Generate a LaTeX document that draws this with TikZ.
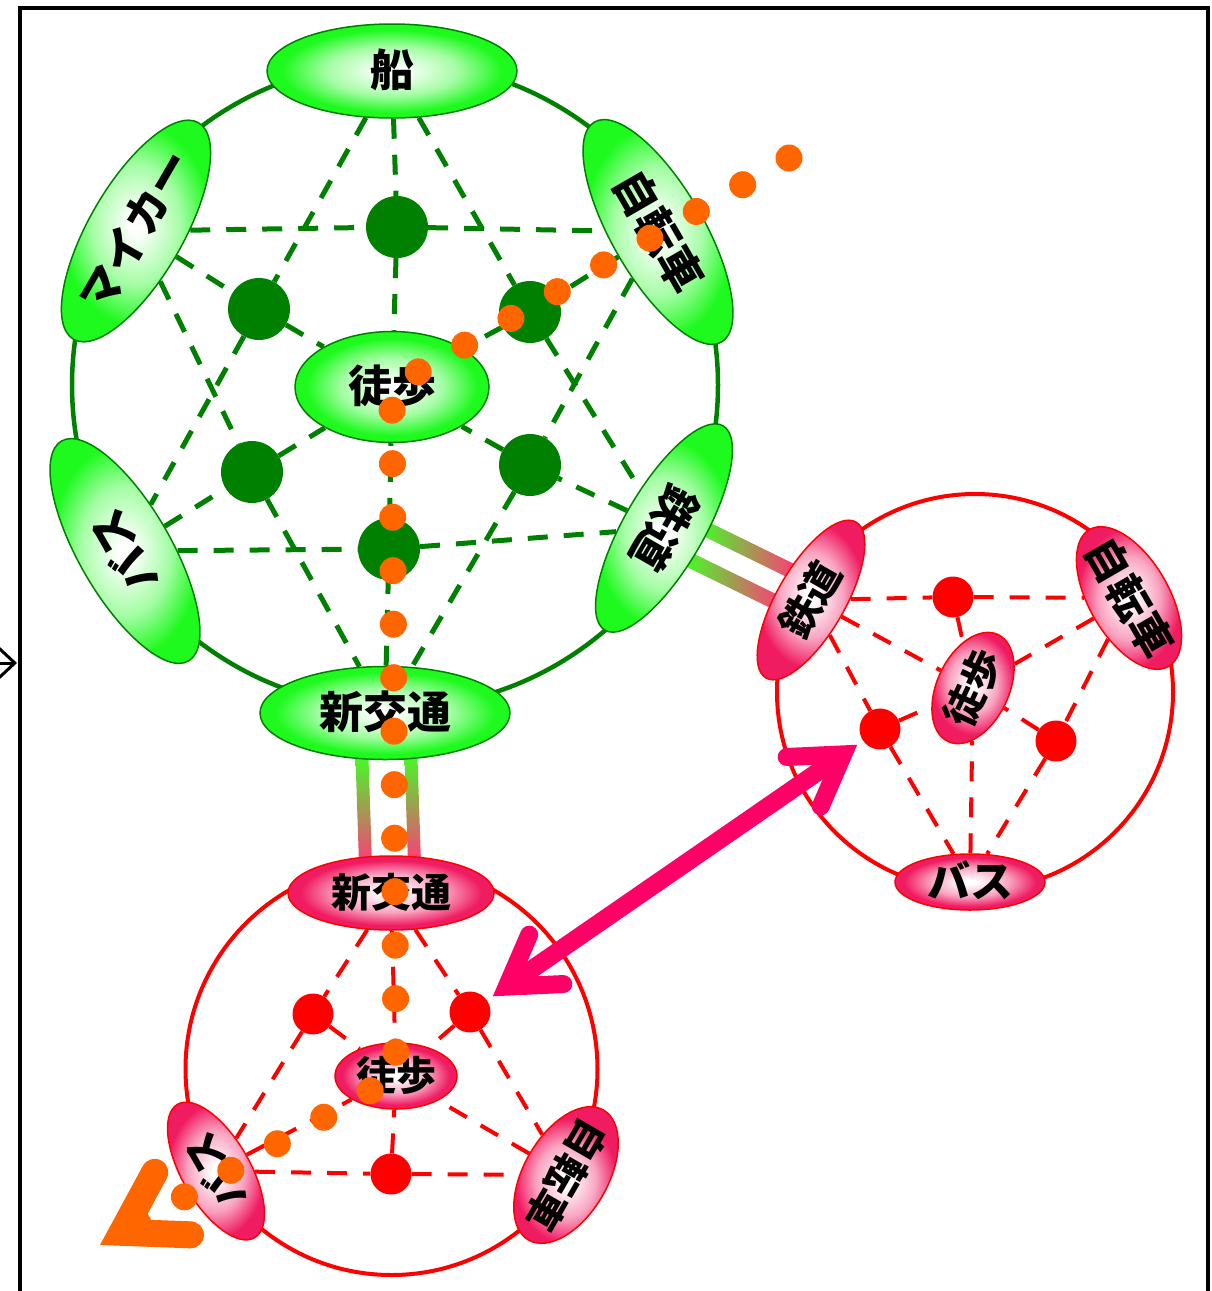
\documentclass[tikz,border=0pt]{standalone}
\usepackage{fontspec}
\usepackage{tikz}
\usetikzlibrary{arrows.meta,shapes.geometric,calc,backgrounds}
\newfontfamily\jpfont{Noto Sans CJK JP}

\definecolor{dkgreen}{RGB}{0,128,0}
\definecolor{rimgreen}{RGB}{30,250,30}
\definecolor{rimpink}{RGB}{240,28,98}
\definecolor{routeorange}{RGB}{255,102,0}
\definecolor{arrowpink}{RGB}{255,0,102}
\definecolor{railgreen}{RGB}{70,250,40}
\definecolor{railpink}{RGB}{255,60,120}

% the path box is the 25bp circle of a shading
\pgfdeclareradialshading{greenglow}{\pgfpointorigin}{color(0bp)=(white); color(2bp)=(white); color(13bp)=(rimgreen!40!white); color(22bp)=(rimgreen); color(50bp)=(rimgreen)}
\pgfdeclareradialshading{pinkglow}{\pgfpointorigin}{color(0bp)=(white); color(2bp)=(white); color(13bp)=(rimpink!40!white); color(22bp)=(rimpink); color(50bp)=(rimpink)}

\newcommand{\ovaltext}[1]{\raisebox{-.36em}[0pt][0pt]{\makebox[0pt]{#1}}}

\tikzset{
  greenoval/.style={ellipse, draw=dkgreen, line width=1.5pt, shade, shading=greenglow, inner sep=0pt, font=\jpfont\bfseries\fontsize{44}{44}\selectfont},
  pinkoval/.style={ellipse, draw=red, line width=1.5pt, shade, shading=pinkglow, inner sep=0pt, font=\jpfont\bfseries\fontsize{40}{40}\selectfont},
  gdot/.style={circle, fill=dkgreen, minimum size=62pt, inner sep=0pt},
  rdot/.style={circle, fill=red, minimum size=41pt, inner sep=0pt},
  glink/.style={dkgreen, line width=5pt, dash pattern=on 20pt off 16pt},
  rlink/.style={red, line width=4pt, dash pattern=on 20pt off 16pt},
  routedots/.style={routeorange, line width=27pt, line cap=round, dash pattern=on 0pt off 53.5pt,
    -{Straight Barb[length=58pt,width=72pt,line cap=round,line join=miter]}},
  swaparrow/.style={arrowpink, line width=18pt, shorten <=7pt, shorten >=7pt,
    {Straight Barb[length=48pt,width=60pt,line cap=round,line join=miter]}-{Straight Barb[length=48pt,width=60pt,line cap=round,line join=miter]}},
}

\begin{document}
\begin{tikzpicture}[x=1pt,y=-1pt]
\useasboundingbox (0,0) rectangle (1211,1291);
\draw[line width=3.5pt] (20,1330) -- (20,8) -- (1208,8) -- (1208,1330); % frame
\coordinate (edgefrom) at (-40,663);
\coordinate (edgeto) at (17,663);
\draw[line width=3pt,-{Straight Barb[length=16pt,width=30pt]}] (edgefrom) -- (edgeto);

% the three rings
\coordinate (gc) at (395,385);
\coordinate (rc) at (975,692);
\coordinate (sc) at (391.5,1069);
\draw[dkgreen,line width=4.5pt] (gc) circle (323);
\draw[red,line width=4pt] (rc) circle (198);
\draw[red,line width=4pt] (sc) circle (206);

% green ring
\node[greenoval,minimum width=250pt,minimum height=94pt] (gship) at (392,71) {\ovaltext{船}};
\node[greenoval,minimum width=250pt,minimum height=94pt,rotate=60] (gcar) at (136,231) {\ovaltext{マイカー}};
\node[greenoval,minimum width=254pt,minimum height=92pt,rotate=-60] (gbike) at (658,232) {\ovaltext{自転車}};
\node[greenoval,minimum width=254pt,minimum height=92pt,rotate=120] (gbus) at (125,551) {\ovaltext{バス}};
\node[greenoval,minimum width=236pt,minimum height=80pt,rotate=240] (grail) at (664,528) {\ovaltext{鉄道}};
\node[greenoval,minimum width=250pt,minimum height=93pt] (gnewt) at (385,713) {\ovaltext{新交通}};
\node[greenoval,minimum width=194pt,minimum height=111pt] (gwalk) at (392,387) {\ovaltext{徒歩}};
\foreach \n/\x/\y in {90/397/227,150/259/309,30/530/312,210/252/472,330/530/465,270/389/549}
  \node[gdot] (gd\n) at (\x,\y) {};
\foreach \a/\m/\b in {gship/gd150/gbus,gship/gd30/grail,gbus/gd270/grail,gcar/gd90/gbike,gcar/gd210/gnewt,gbike/gd330/gnewt}
  \draw[glink] (\a) -- (\m) -- (\b);
\foreach \a/\m in {gship/gd90,gcar/gd150,gbike/gd30,gbus/gd210,grail/gd330,gnewt/gd270}
  \draw[glink] (\a) -- (\m) -- (gwalk);

% right red ring
\node[pinkoval,minimum width=180pt,minimum height=68pt,rotate=60] (rrail) at (811,600) {\ovaltext{鉄道}};
\node[pinkoval,minimum width=158pt,minimum height=80pt,rotate=-60,font=\jpfont\bfseries\fontsize{43}{43}\selectfont] (rbike) at (1129,598) {\ovaltext{自転車}};
\node[pinkoval,minimum width=150pt,minimum height=56pt,font=\jpfont\bfseries\fontsize{43}{43}\selectfont] (rbus) at (970,882) {\ovaltext{バス}};
\node[pinkoval,minimum width=118pt,minimum height=72pt,rotate=65] (rwalk) at (973,688) {\ovaltext{徒歩}};
\foreach \n/\x/\y in {90/953/597,210/880/729,330/1056/741}
  \node[rdot] (rd\n) at (\x,\y) {};

% lower red ring
\node[pinkoval,minimum width=206pt,minimum height=74pt] (snewt) at (391,893) {\ovaltext{新交通}};
\node[pinkoval,minimum width=154pt,minimum height=68pt,rotate=120] (sbus) at (216,1171) {\ovaltext{バス}};
\node[pinkoval,minimum width=150pt,minimum height=84pt,rotate=-120] (sbike) at (566,1175) {\ovaltext{自転車}};
\node[pinkoval,minimum width=122pt,minimum height=66pt] (swalk) at (396,1076) {\ovaltext{徒歩}};
\foreach \n/\x/\y in {150/313/1014,30/470/1012,270/391/1174}
  \node[rdot] (sd\n) at (\x,\y) {};

\foreach \a/\m/\b in {rrail/rd90/rbike,rrail/rd210/rbus,rbike/rd330/rbus,snewt/sd150/sbus,snewt/sd30/sbike,sbus/sd270/sbike}
  \draw[rlink] (\a) -- (\m) -- (\b);
\foreach \a in {rrail,rbike,rbus,rd90,rd210,rd330}
  \draw[rlink] (\a) -- (rwalk);
\foreach \a in {snewt,sbus,sbike,sd150,sd30,sd270}
  \draw[rlink] (\a) -- (swalk);

% rails between the rings
\coordinate (railA) at ($(grail)!0.22!(rrail)$);
\coordinate (railB) at ($(grail)!0.82!(rrail)$);
\coordinate (newtA) at ($(gnewt)!0.24!(snewt)$);
\coordinate (newtB) at ($(gnewt)!0.82!(snewt)$);
\begin{scope}[on background layer]
\foreach \lo/\hi in {10pt/25pt,-25pt/-10pt}
  \shade[left color=railgreen,right color=railpink] ($(railA)!\lo!90:(railB)$) -- ($(railA)!\hi!90:(railB)$)
    -- ($(railB)!\hi!-90:(railA)$) -- ($(railB)!\lo!-90:(railA)$) -- cycle;
\foreach \lo/\hi in {18pt/31pt,-31pt/-18pt}
  \shade[top color=railgreen,bottom color=railpink] ($(newtA)!\lo!90:(newtB)$) -- ($(newtA)!\hi!90:(newtB)$)
    -- ($(newtB)!\hi!-90:(newtA)$) -- ($(newtB)!\lo!-90:(newtA)$) -- cycle;
\end{scope}

\draw[swaparrow] (sd30) -- (rd210);

% trip
\coordinate (routestart) at (789,158);
\coordinate (routeend) at (100,1245);
\draw[routedots] (routestart) -- (gwalk.center) -- (swalk.center) -- (routeend);
\end{tikzpicture}
\end{document}
